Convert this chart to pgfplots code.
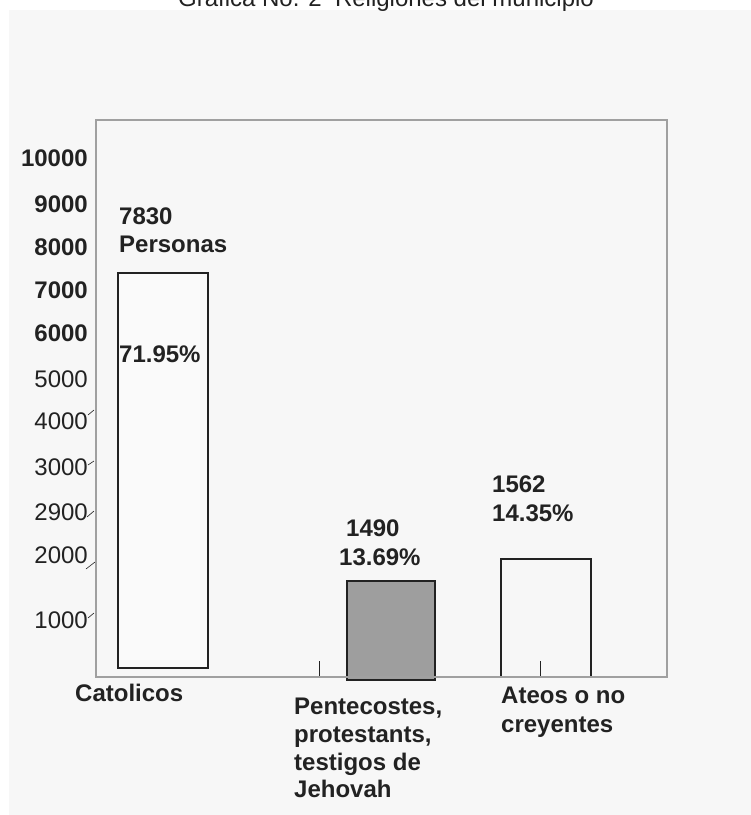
\documentclass[border=0pt]{standalone}
\usepackage{fontspec}
\setmainfont{Liberation Sans}
\usepackage{pgfplots}
\pgfplotsset{compat=1.18}

\definecolor{panel}{HTML}{F7F7F7}
\definecolor{boxgray}{HTML}{A0A0A0}
\definecolor{ink}{HTML}{222222}
\definecolor{bargray}{HTML}{9E9E9E}
\definecolor{barwhite}{HTML}{FAFAFA}

\newcommand{\chartfont}{\fontsize{24}{28}\selectfont}

\begin{document}
\begin{tikzpicture}[x=1pt,y=1pt]
% page and panel (1px of the reference = 1pt)
\fill[white] (0,0) rectangle (751,815);
\fill[panel] (9,0) rectangle (751,805);
\node[anchor=base, text=ink, font=\chartfont] at (386,808) {Grafica No. 2\ \ Religiones del municipio};

\begin{axis}[
    at={(96pt,138pt)}, anchor=south west,
    scale only axis,
    width=571pt, height=557pt,
    xmin=0, xmax=571,
    ymin=0, ymax=557,
    clip=false,
    axis on top,
    axis line style={draw=boxgray, line width=2pt},
    axis background/.style={fill=panel},
    ybar, bar shift=0pt,
    /pgf/number format/assume math mode=true,
    tick label style={font=\chartfont, text=ink},
    xtick={0,223,444},
    xticklabels={},
    xtick pos=bottom,
    tick align=inside,
    major tick length=16pt,
    xtick style={draw=ink, line width=0.8pt},
    ytick={519,473,430,387,344,298,256,210,165,122,57},
    yticklabels={\textbf{10000},\textbf{9000},\textbf{8000},\textbf{7000},\textbf{6000},5000,4000,3000,2900,2000,1000},
    ytick pos=left,
    ytick style={draw=none},
    yticklabel style={inner sep=0pt, xshift=-8pt},
]
% bar heights as drawn (px); the Catolicos bar floats 9px above the axis,
% the Pentecostes bar dips 3px below it
\addplot[draw=ink, line width=1.8pt, fill=barwhite, bar width=90, bar shift=0pt, yshift=9pt]
    coordinates {(67,395)};
\addplot[draw=ink, line width=1.8pt, fill=bargray, bar width=88, bar shift=0pt, yshift=-3pt]
    coordinates {(295,99)};
\addplot[draw=ink, line width=1.8pt, fill=panel, bar width=90, bar shift=0pt]
    coordinates {(450,118)};

% value labels
\begin{scope}[every node/.style={anchor=base west, inner sep=0pt, text=ink, font=\chartfont\bfseries}]
\node at (axis cs:23,452) {7830};
\node at (axis cs:23,424) {Personas};
\node at (axis cs:23,314) {71.95\%};
\node at (axis cs:250,140) {1490};
\node at (axis cs:243,111) {13.69\%};
\node at (axis cs:396,184) {1562};
\node at (axis cs:396,155) {14.35\%};
% category labels
\node at (axis cs:-21,-24) {Catolicos};
\node at (axis cs:198,-37) {Pentecostes,};
\node at (axis cs:198,-65) {protestants,};
\node at (axis cs:198,-93) {testigos de};
\node at (axis cs:198,-120) {Jehovah};
\node at (axis cs:405,-27) {Ateos o no};
\node at (axis cs:405,-55) {creyentes};
\end{scope}

% small slashes after some y labels
\begin{scope}[draw=ink, line width=0.6pt]
\draw (axis cs:-8,262) -- (axis cs:-2,267);
\draw (axis cs:-8,212) -- (axis cs:-2,216);
\draw (axis cs:-9,160) -- (axis cs:-2,166);
\draw (axis cs:-10,108) -- (axis cs:-1,115);
\draw (axis cs:-8,59) -- (axis cs:-2,64);
\end{scope}
\end{axis}

\pgfresetboundingbox
\useasboundingbox (0,0) rectangle (751,815);
\end{tikzpicture}
\end{document}
